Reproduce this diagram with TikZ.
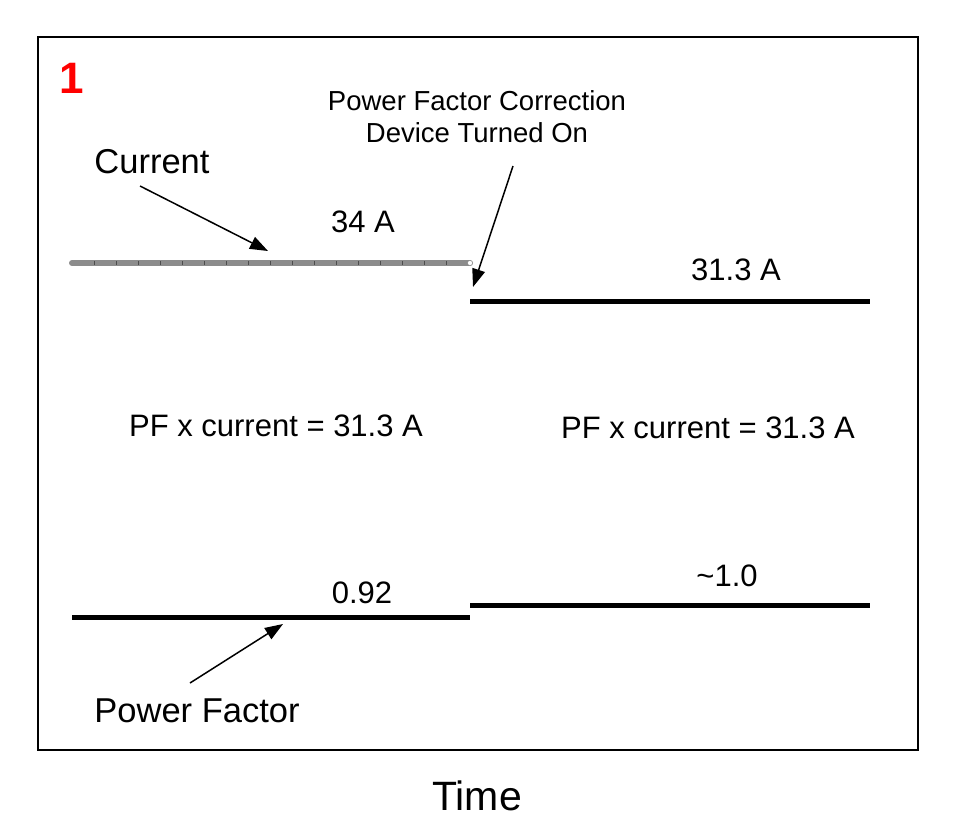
\documentclass[tikz,border=0pt]{standalone}
\usepackage{fontspec}
\setmainfont{Liberation Sans}
\usetikzlibrary{arrows.meta}
\begin{document}
\begin{tikzpicture}[x=1pt,y=-1pt,
  lbl/.style={inner sep=0pt,font=\fontsize{31}{36}\selectfont},
  big/.style={inner sep=0pt,font=\fontsize{34.5}{40}\selectfont},
  sm/.style={inner sep=0pt,font=\fontsize{27.5}{32}\selectfont,align=center},
  lvl/.style={line width=5pt},
  pt/.style={-{Triangle[length=18pt,width=13pt]},line width=1.5pt}]
\useasboundingbox (0,0) rectangle (960,830);
\draw[line width=2pt] (38,37) rectangle (918,750);
\node[inner sep=0pt,text=red,font=\fontsize{44}{48}\selectfont\bfseries] (one) at (72,78) {1};
% current
\coordinate (c1) at (72,263); \coordinate (c2) at (470,263);
\draw[line width=6pt,gray!90,line cap=round] (c1) -- (c2);
\foreach \i in {0,...,17} \draw[black!70,line width=0.6pt] ({94+\i*22},261) -- ({94+\i*22},265);
\draw[fill=white,draw=gray] (c2) circle (2.5pt);
\coordinate (d1) at (470,301); \coordinate (d2) at (870,301);
\draw[lvl] (d1) -- (d2);
\coordinate (p1) at (72,617); \coordinate (p2) at (470,617);
\draw[lvl] (p1) -- (p2);
\coordinate (q1) at (470,605); \coordinate (q2) at (870,605);
\draw[lvl] (q1) -- (q2);
\node[big] (cur) at (152,162) {Current};
\node[lbl] (a34) at (363,222) {34 A};
\node[lbl] (a313) at (736,270) {31.3 A};
\node[lbl] (pfl) at (276,426) {PF x current = 31.3 A};
\node[lbl] (pfr) at (708,428) {PF x current = 31.3 A};
\node[lbl] (v092) at (362,593) {0.92};
\node[lbl] (v10) at (727,576) {\char`\~1.0};
\node[big] (pf) at (197,711) {Power Factor};
\node[sm] (pfc) at (477,117) {Power Factor Correction\\Device Turned On};
\node[inner sep=0pt,font=\fontsize{41}{46}\selectfont] (time) at (477,796) {Time};
\coordinate (t1) at (268,251); \coordinate (s1) at (140,186);
\draw[pt] (s1) -- (t1);
\coordinate (s2) at (513,166); \coordinate (t2) at (473,287);
\draw[pt] (s2) -- (t2);
\coordinate (s3) at (190,683); \coordinate (t3) at (283,624);
\draw[pt] (s3) -- (t3);
\end{tikzpicture}
\end{document}
